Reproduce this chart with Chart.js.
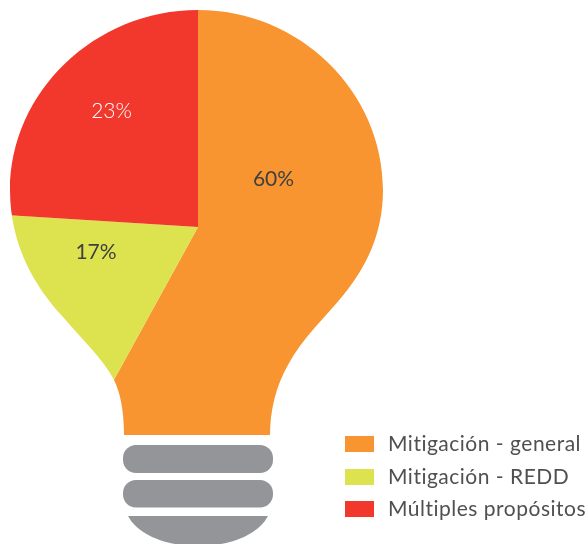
<!DOCTYPE html>
<html>
<head>
<meta charset="utf-8">
<title>Mitigación</title>
<script src="https://cdn.jsdelivr.net/npm/chart.js@4"></script>
<style>
  html, body { margin: 0; padding: 0; background: #fff; }
  #wrap { position: relative; width: 585px; height: 544px; overflow: hidden; }
  #legend { position: absolute; left: 345px; top: 428px; font-family: Lato, sans-serif; font-size: 21px; letter-spacing: 0.5px; color: #505050; }
  #legend div { position: relative; height: 32.5px; line-height: 30px; padding-left: 43px; white-space: nowrap; }
  #legend i { position: absolute; left: 0; top: 8px; width: 29px; height: 16px; }
</style>
</head>
<body>
<div id="wrap">
  <canvas id="bulbChart" width="585" height="544"></canvas>
  <div id="legend"></div>
</div>
<script>
const categories = ["Mitigación - general", "Mitigación - REDD", "Múltiples propósitos"];
// wedge sizes as measured on the drawing; the printed percentages differ a little
const wedgeValues = [58, 18, 24];
const printedLabels = ["60%", "17%", "23%"];
const colors = ["#F99530", "#DDE34F", "#F2372D"];
const labelColors = ["#404040", "#404040", "#ffffff"];
const labelFonts = ["21px Lato, sans-serif", "21px Lato, sans-serif", "300 21px Lato, sans-serif"];
const labelSpots = [[273.5, 179], [96, 252], [111.5, 111]];

function bulbPath(ctx) {
  ctx.beginPath();
  ctx.moveTo(198, 10);
  ctx.bezierCurveTo(300, 10, 383, 92, 383, 190);
  ctx.bezierCurveTo(383, 235, 365, 268, 345, 293);
  ctx.bezierCurveTo(325, 318, 302, 338, 288, 365);
  ctx.bezierCurveTo(276, 386, 270, 410, 270, 435);
  ctx.lineTo(124, 435);
  ctx.bezierCurveTo(124, 410, 120, 392, 114, 380);
  ctx.bezierCurveTo(104, 360, 80, 337, 63, 317);
  ctx.bezierCurveTo(35, 287, 10, 245, 10, 190);
  ctx.bezierCurveTo(10, 92, 95, 10, 198, 10);
  ctx.closePath();
}

const bulbShape = {
  id: "bulbShape",
  beforeDatasetsDraw(chart) {
    const ctx = chart.ctx;
    ctx.save();
    bulbPath(ctx);
    ctx.clip();
  },
  afterDatasetsDraw(chart) {
    const ctx = chart.ctx;
    ctx.restore();

    // screw base
    ctx.fillStyle = "#939598";
    ctx.beginPath();
    ctx.roundRect(123, 445, 150, 28, 13);
    ctx.roundRect(123, 480, 150, 27.5, 13);
    ctx.fill();
    ctx.beginPath();
    ctx.moveTo(128, 516);
    ctx.lineTo(268, 516);
    ctx.bezierCurveTo(258, 535, 230, 546, 198, 546);
    ctx.bezierCurveTo(166, 546, 138, 535, 128, 516);
    ctx.fill();

    // percentages
    ctx.textAlign = "center";
    ctx.textBaseline = "middle";
    printedLabels.forEach((txt, i) => {
      ctx.font = labelFonts[i];
      ctx.fillStyle = labelColors[i];
      ctx.fillText(txt, labelSpots[i][0], labelSpots[i][1]);
    });
  }
};

new Chart(document.getElementById("bulbChart"), {
  type: "pie",
  data: {
    labels: categories,
    datasets: [{
      data: wedgeValues,
      backgroundColor: colors,
      borderWidth: 0,
      clip: false
    }]
  },
  options: {
    responsive: false,
    animation: false,
    radius: 270,
    layout: { padding: { left: 0, top: 0, right: 189, bottom: 90 } },
    plugins: { legend: { display: false }, tooltip: { enabled: false } }
  },
  plugins: [bulbShape]
});

const legend = document.getElementById("legend");
categories.forEach((name, i) => {
  const row = document.createElement("div");
  const box = document.createElement("i");
  box.style.background = colors[i];
  row.appendChild(box);
  row.appendChild(document.createTextNode(name));
  legend.appendChild(row);
});
</script>
</body>
</html>
